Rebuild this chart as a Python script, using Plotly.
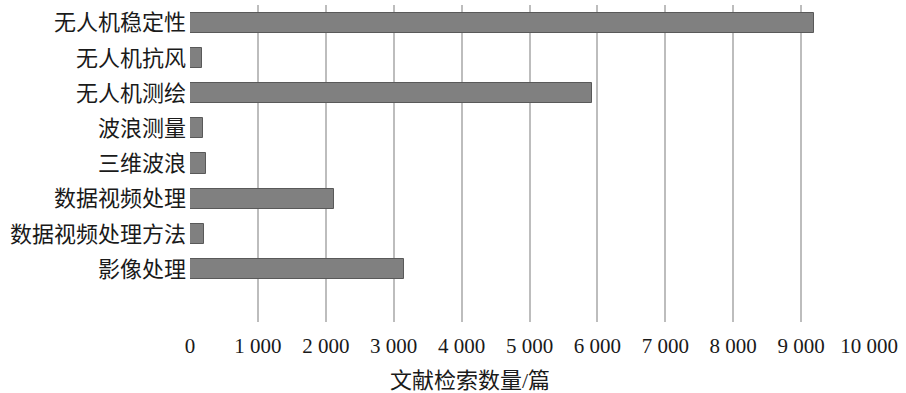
import plotly.graph_objects as go

categories = ["无人机稳定性", "无人机抗风", "无人机测绘", "波浪测量", "三维波浪",
              "数据视频处理", "数据视频处理方法", "影像处理"]
counts = [9190, 170, 5925, 190, 235, 2120, 205, 3150]
tick_vals = [0, 1000, 2000, 3000, 4000, 5000, 6000, 7000, 8000, 9000, 10000]
tick_text = ["0", "1 000", "2 000", "3 000", "4 000", "5 000", "6 000", "7 000",
             "8 000", "9 000", "10 000"]
x_title = "文献检索数量/篇"

FONT = "Liberation Serif, Noto Sans CJK SC, serif"

fig = go.Figure(go.Bar(
    x=counts, y=categories, orientation="h", width=0.57,
    marker=dict(color="#808080", line=dict(color="#595959", width=1)),
))

fig.update_layout(
    width=906, height=393,
    margin=dict(l=190, r=37, t=5, b=71),
    paper_bgcolor="white", plot_bgcolor="white",
    font=dict(family=FONT, size=21, color="#1a1a1a"),
    showlegend=False,
    bargap=0,
)
fig.update_xaxes(
    range=[0, 10000], tickvals=tick_vals, ticktext=tick_text,
    showgrid=True, gridcolor="#bdbdbd", gridwidth=2,
    zeroline=False, showline=False, ticks="", ticklabelstandoff=9,
    tickfont=dict(family=FONT, size=21),
)
fig.update_yaxes(
    type="category", categoryorder="array", categoryarray=categories,
    range=[8.5, -0.5], showgrid=False, zeroline=False, showline=False,
    ticks="", ticklabelstandoff=3,
    tickfont=dict(family=FONT, size=22),
)
fig.add_annotation(
    text=x_title, xref="paper", yref="paper", x=(470 - 190) / 679, y=-(380 - 322) / 317,
    xanchor="center", yanchor="middle", showarrow=False,
    font=dict(family=FONT, size=22, color="#1a1a1a"),
)

fig.write_html("out.html")
